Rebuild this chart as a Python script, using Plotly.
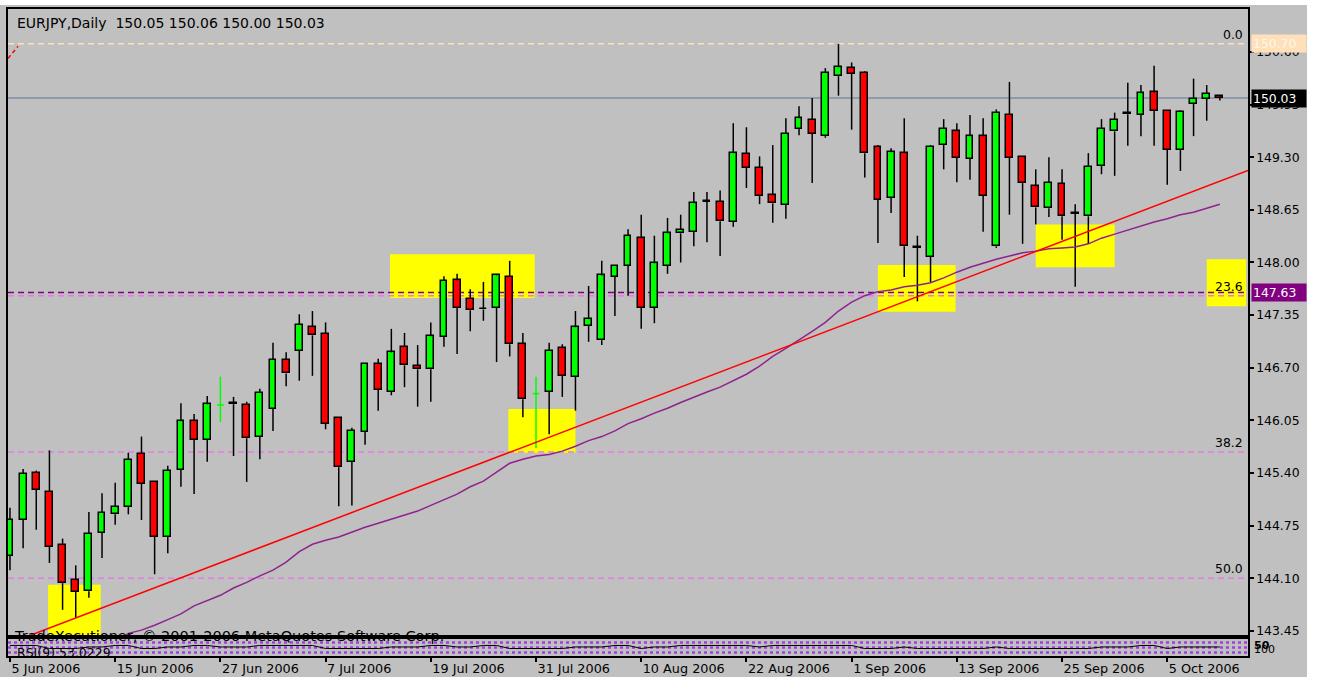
import plotly.graph_objects as go

# ---------------- data ----------------
opens = [144.38, 144.82, 145.40, 145.17, 144.51, 144.08, 143.94, 144.66, 144.89, 144.98,
         145.64, 145.29, 144.61, 145.44, 146.04, 145.81, 146.24, 146.26, 146.24, 145.85,
         146.19, 146.80, 146.91, 147.20, 147.12, 146.08, 145.54, 145.91, 146.75, 146.40,
         146.96, 146.72, 146.68, 147.08, 147.78, 147.55, 147.43, 147.44, 147.82, 146.99,
         146.38, 146.40, 146.94, 146.59, 147.22, 147.04, 147.82, 147.96, 148.30, 147.44,
         147.96, 148.36, 148.38, 148.76, 148.75, 148.50, 149.34, 149.17, 148.83, 148.71,
         149.65, 149.76, 149.56, 150.30, 150.40, 150.34, 149.43, 148.80, 149.35, 148.19,
         148.07, 149.45, 149.62, 149.28, 149.56, 148.20, 149.82, 149.30, 148.94, 148.67,
         148.97, 148.61, 148.57, 149.19, 149.62, 149.84, 149.82, 150.10, 149.87, 149.39,
         149.96, 150.02, 150.05]
highs = [144.97, 145.45, 145.43, 145.68, 144.59, 144.26, 144.92, 145.15, 145.28, 145.65,
         145.85, 145.30, 145.49, 146.26, 146.13, 146.35, 146.59, 146.34, 146.28, 146.44,
         147.01, 146.89, 147.36, 147.40, 147.26, 146.09, 145.96, 146.76, 146.81, 147.18,
         147.13, 146.98, 147.26, 147.83, 147.86, 147.67, 147.76, 147.86, 148.02, 147.13,
         146.59, 147.01, 146.99, 147.40, 147.71, 148.02, 147.97, 148.41, 148.59, 148.33,
         148.55, 148.59, 148.87, 148.87, 148.89, 149.72, 149.67, 149.31, 149.45, 149.78,
         149.93, 150.03, 150.40, 150.70, 150.47, 150.36, 149.45, 149.41, 149.78, 148.33,
         149.45, 149.77, 149.72, 149.82, 149.78, 149.89, 150.23, 149.31, 149.15, 149.30,
         149.15, 148.72, 149.35, 149.77, 149.85, 150.22, 150.19, 150.43, 149.88, 149.88,
         150.27, 150.19, 150.06]
lows = [144.20, 144.47, 144.70, 144.29, 143.71, 143.61, 143.86, 144.35, 144.76, 144.89,
        144.82, 144.15, 144.41, 145.23, 145.14, 145.54, 146.03, 145.61, 145.29, 145.57,
        145.92, 146.47, 146.54, 146.60, 145.94, 144.99, 145.00, 145.75, 146.17, 146.36,
        146.46, 146.22, 146.28, 146.96, 146.87, 147.15, 147.28, 146.77, 146.84, 146.09,
        145.71, 145.88, 146.34, 146.17, 147.02, 146.98, 147.34, 147.59, 147.18, 147.25,
        147.86, 148.00, 148.20, 148.25, 148.08, 148.44, 148.92, 148.72, 148.49, 148.54,
        149.57, 148.98, 149.54, 150.06, 149.64, 149.05, 148.24, 148.61, 147.82, 147.52,
        147.75, 149.15, 148.99, 149.02, 148.38, 148.18, 148.59, 148.23, 148.47, 148.56,
        148.28, 147.70, 148.23, 149.09, 149.07, 149.44, 149.56, 149.44, 148.96, 149.13,
        149.56, 149.75, 150.00]
closes = [144.82, 145.39, 145.19, 144.49, 144.04, 143.93, 144.65, 144.91, 144.98, 145.56,
          145.27, 144.61, 145.43, 146.04, 145.81, 146.25, 146.24, 146.25, 145.83, 146.39,
          146.80, 146.63, 147.23, 147.10, 146.01, 145.47, 145.92, 146.75, 146.43, 146.89,
          146.73, 146.68, 147.09, 147.77, 147.44, 147.41, 147.42, 147.84, 146.99, 146.31,
          146.38, 146.91, 146.60, 147.20, 147.30, 147.84, 147.96, 148.33, 147.44, 147.99,
          148.36, 148.40, 148.73, 148.75, 148.51, 149.35, 149.17, 148.82, 148.73, 149.59,
          149.78, 149.59, 150.34, 150.41, 150.33, 149.35, 148.77, 149.36, 148.20, 148.18,
          149.43, 149.65, 149.29, 149.56, 148.82, 149.85, 149.29, 148.98, 148.68, 148.98,
          148.57, 148.60, 149.18, 149.65, 149.76, 149.83, 150.09, 149.87, 149.39, 149.86,
          150.02, 150.08, 150.03]

# moving average (purple line), one value per bar, None where it is below the chart
ma_values = [None] * 8 + [
    143.30, 143.42, 143.46, 143.52, 143.59, 143.66, 143.76, 143.83, 143.89, 143.98,
    144.05, 144.13, 144.20, 144.30, 144.43, 144.52, 144.57, 144.61, 144.67, 144.73,
    144.78, 144.83, 144.88, 144.93, 145.00, 145.07, 145.14, 145.23, 145.30, 145.41,
    145.52, 145.57, 145.61, 145.63, 145.67, 145.73, 145.80, 145.85, 145.92, 146.01,
    146.07, 146.14, 146.20, 146.27, 146.34, 146.40, 146.46, 146.54, 146.62, 146.72,
    146.84, 146.94, 147.04, 147.15, 147.26, 147.40, 147.51, 147.59, 147.64, 147.66,
    147.70, 147.72, 147.75, 147.81, 147.88, 147.94, 147.99, 148.04, 148.08, 148.12,
    148.14, 148.17, 148.18, 148.19, 148.23, 148.30, 148.35, 148.40, 148.45, 148.50,
    148.54, 148.59, 148.62, 148.67, 148.72]

# RSI(9) indicator pane, coarse reading of the tiny sub-window
rsi_values = [62, 62, 62, 44, 44, 44, 53, 53, 62, 62, 44, 44, 53, 53, 62, 62, 53, 53, 53, 62,
              62, 62, 62, 62, 44, 44, 44, 44, 44, 53, 53, 53, 62, 62, 53, 53, 62, 62, 44, 44,
              44, 44, 44, 53, 53, 53, 62, 62, 44, 53, 53, 62, 62, 62, 62, 62, 62, 53, 62, 62,
              62, 62, 62, 62, 62, 44, 44, 44, 53, 44, 44, 44, 44, 44, 44, 53, 44, 44, 44, 44,
              44, 44, 44, 53, 53, 53, 62, 62, 44, 53, 53, 53, 53]
rsi_levels = [20, 50, 80]

# x-axis labels (bar index -> date text)
tick_bars = [0, 8, 16, 24, 32, 40, 48, 56, 64, 72, 80, 88]
tick_labels = ["5 Jun 2006", "15 Jun 2006", "27 Jun 2006", "7 Jul 2006", "19 Jul 2006",
               "31 Jul 2006", "10 Aug 2006", "22 Aug 2006", "1 Sep 2006", "13 Sep 2006",
               "25 Sep 2006", "5 Oct 2006"]
price_ticks = [143.45, 144.10, 144.75, 145.40, 146.05, 146.70, 147.35, 148.00,
               148.65, 149.30, 149.95, 150.60]

# Fibonacci retracement levels
fib_labels = ["0.0", "23.6", "38.2", "50.0"]
fib_prices = [150.70, 147.59, 145.66, 144.10]
fib_diag_bars = [-0.15, 0.61]
fib_diag_prices = [150.52, 150.67]

# horizontal line and current price
hline_price = 147.63
last_price = 150.03

# trend line anchors (bar index, price)
trend_bars = [5, 40]
trend_prices = [143.61, 145.78]

# yellow highlight boxes: (first bar, last bar, low, high)
highlight_boxes = [(2.9, 6.9, 143.38, 144.02), (28.9, 39.9, 147.56, 148.10),
                   (37.9, 43.0, 145.65, 146.19), (66.0, 71.9, 147.39, 147.97),
                   (78.0, 84.0, 147.94, 148.47), (91.0, 94.0, 147.46, 148.04)]

title_text = "EURJPY,Daily\u00a0 150.05 150.06 150.00 150.03"

# ---------------- build figure ----------------
FONT = "DejaVu Sans"
BG = "#C0C0C0"
n = len(opens)
X_RANGE = [-0.15, 94.14]
Y_RANGE = [143.40, 151.13]
BODY_W = 0.52

fig = go.Figure()

# wicks (outside of the bodies)
wx, wy = [], []
dx, dy = [], []
for i, (o, h, l, c) in enumerate(zip(opens, highs, lows, closes)):
    if o == c:
        dx += [i, i, None, i - BODY_W / 2, i + BODY_W / 2, None]
        dy += [l, h, None, o, o, None]
        continue
    top, bot = max(o, c), min(o, c)
    wx += [i, i, None, i, i, None]
    wy += [h, top, None, bot, l, None]

fig.add_trace(go.Scatter(x=wx, y=wy, mode="lines", line=dict(color="black", width=1.5),
                         hoverinfo="skip", showlegend=False))
fig.add_trace(go.Scatter(x=dx, y=dy, mode="lines", line=dict(color="#00FF00", width=1.5),
                         hoverinfo="skip", showlegend=False))

bull = [i for i in range(n) if closes[i] > opens[i]]
bear = [i for i in range(n) if closes[i] < opens[i]]
fig.add_trace(go.Bar(x=bull, base=[opens[i] for i in bull],
                     y=[closes[i] - opens[i] for i in bull], width=BODY_W,
                     marker=dict(color="#00FF00", line=dict(color="black", width=1.5)),
                     hoverinfo="skip", showlegend=False))
fig.add_trace(go.Bar(x=bear, base=[closes[i] for i in bear],
                     y=[opens[i] - closes[i] for i in bear], width=BODY_W,
                     marker=dict(color="#FF0000", line=dict(color="black", width=1.5)),
                     hoverinfo="skip", showlegend=False))

# moving average
fig.add_trace(go.Scatter(x=list(range(n)), y=ma_values, mode="lines",
                         line=dict(color="#8E238E", width=1.5), hoverinfo="skip",
                         showlegend=False, connectgaps=False))

# trend line extended across the chart
slope = (trend_prices[1] - trend_prices[0]) / (trend_bars[1] - trend_bars[0])
tl_x = [X_RANGE[0], X_RANGE[1]]
tl_y = [trend_prices[0] + slope * (xx - trend_bars[0]) for xx in tl_x]
fig.add_trace(go.Scatter(x=tl_x, y=tl_y, mode="lines", line=dict(color="#FF0000", width=1.5),
                         hoverinfo="skip", showlegend=False))

# fib diagonal fragment
fig.add_trace(go.Scatter(x=fib_diag_bars, y=fib_diag_prices, mode="lines",
                         line=dict(color="#FF0000", width=1.5, dash="4px,3px"),
                         hoverinfo="skip", showlegend=False))

# RSI pane
fig.add_trace(go.Scatter(x=list(range(n)), y=rsi_values, mode="lines",
                         line=dict(color="black", width=1), xaxis="x2", yaxis="y2",
                         hoverinfo="skip", showlegend=False))

shapes = []
for b0, b1, lo, hi in highlight_boxes:
    shapes.append(dict(type="rect", xref="x", yref="y", x0=b0, x1=b1, y0=lo, y1=hi,
                       fillcolor="#FFFF00", line=dict(width=0), layer="below"))
for lab, p in zip(fib_labels, fib_prices):
    col = "#FFE0B8" if lab == "0.0" else "#E47CE4"
    shapes.append(dict(type="line", xref="x", yref="y", x0=X_RANGE[0], x1=X_RANGE[1],
                       y0=p, y1=p, line=dict(color=col, width=1.5, dash="6px,4px"),
                       layer="below"))
shapes.append(dict(type="line", xref="x", yref="y", x0=X_RANGE[0], x1=X_RANGE[1],
                   y0=hline_price, y1=hline_price,
                   line=dict(color="#800080", width=1.5, dash="6px,4px"), layer="below"))
shapes.append(dict(type="line", xref="x", yref="y", x0=X_RANGE[0], x1=X_RANGE[1],
                   y0=last_price, y1=last_price,
                   line=dict(color="#7D8FA3", width=1.5), layer="below"))
for lv in rsi_levels:
    shapes.append(dict(type="line", xref="x2", yref="y2", x0=X_RANGE[0], x1=X_RANGE[1],
                       y0=lv, y1=lv, line=dict(color="#A040E0", width=2.5, dash="3px,3px"),
                       layer="below"))
# white page border (top and right of the screenshot)
shapes.append(dict(type="rect", xref="paper", yref="paper", x0=-0.01, x1=1.06,
                   y0=1.0062, y1=1.02, fillcolor="white", line=dict(width=0), layer="below"))
shapes.append(dict(type="rect", xref="paper", yref="paper", x0=1.0476, x1=1.06,
                   y0=-0.05, y1=1.02, fillcolor="white", line=dict(width=0), layer="below"))

annotations = [
    dict(x=0.00565, y=0.979, xref="paper", yref="paper", text=title_text, showarrow=False,
         xanchor="left", yanchor="middle", font=dict(size=14, color="black", family=FONT)),
    dict(x=0.0032, y=0.0309, xref="paper", yref="paper",
         text="TradeXecutioner, © 2001-2006 MetaQuotes Software Corp.", showarrow=False,
         xanchor="left", yanchor="middle", font=dict(size=14.5, color="black", family=FONT)),
    dict(x=0.0058, y=0.006, xref="paper", yref="paper", text="RSI(9) 53.0229",
         showarrow=False, xanchor="left", yanchor="middle",
         font=dict(size=12.5, color="black", family=FONT)),
    dict(x=1.0035, y=0.016, xref="paper", yref="paper", text="<b>50</b>",
         showarrow=False, xanchor="left", yanchor="middle",
         font=dict(size=11, color="black", family=FONT)),
    dict(x=1.0035, y=0.010, xref="paper", yref="paper", text="100",
         showarrow=False, xanchor="left", yanchor="middle",
         font=dict(size=11, color="black", family=FONT)),
]
for lab, p in zip(fib_labels, fib_prices):
    annotations.append(dict(x=0.9976, y=p, xref="paper", yref="y", text=lab,
                            showarrow=False, xanchor="right", yanchor="bottom",
                            font=dict(size=12.4, color="black", family=FONT)))
for txt, p, bg, fg in [("150.70", 150.70, "#FFE0B8", "#FFF6EA"),
                       ("150.03", last_price, "black", "white"),
                       ("147.63", hline_price, "#800080", "white")]:
    annotations.append(dict(x=1.0024, y=p, xref="paper", yref="y", text=txt,
                            showarrow=False, xanchor="left", yanchor="middle",
                            bgcolor=bg, borderpad=1, width=52, align="left",
                            font=dict(size=12.4, color=fg, family=FONT)))

fig.update_layout(
    template="none",
    width=1319, height=677,
    margin=dict(l=8, r=71, t=9, b=21, pad=0),
    paper_bgcolor=BG, plot_bgcolor=BG,
    font=dict(family=FONT, size=12.4, color="black"),
    barmode="overlay", bargap=0,
    showlegend=False,
    hovermode=False,
    shapes=shapes,
    annotations=annotations,
    xaxis=dict(domain=[0, 1], anchor="y", range=X_RANGE, showline=True, mirror=True,
               linecolor="black", linewidth=1.5, showgrid=False, zeroline=False,
               showticklabels=False, ticks="", automargin=False),
    xaxis2=dict(domain=[0, 1], anchor="y2", matches="x", range=X_RANGE, showline=True,
                mirror=True, linecolor="black", linewidth=1.5, showgrid=False,
                zeroline=False, ticks="outside", ticklen=4, tickwidth=1.5, tickcolor="black",
                tickmode="array", tickvals=tick_bars, ticktext=tick_labels,
                ticklabelposition="outside right",
                tickfont=dict(size=12.8, family=FONT, color="black"), automargin=False),
    yaxis=dict(domain=[0.0325, 1], anchor="x", side="right", range=Y_RANGE, showline=True,
               mirror=True, linecolor="black", linewidth=1.5, showgrid=False,
               zeroline=False, ticks="outside", ticklen=4, tickwidth=1.5, tickcolor="black",
               tickmode="array", tickvals=price_ticks,
               ticktext=[f"{v:.2f}" for v in price_ticks],
               tickfont=dict(size=12.4, family=FONT, color="black"), automargin=False),
    yaxis2=dict(domain=[0, 0.0263], anchor="x2", side="right", range=[0, 100],
                showline=True, mirror=True, linecolor="black", linewidth=1.5,
                showgrid=False, zeroline=False, showticklabels=False, ticks="",
                automargin=False),
)

fig.write_html("out.html", config={"displayModeBar": False},
               post_script="document.body.style.margin='0px';document.body.style.overflow='hidden';")
